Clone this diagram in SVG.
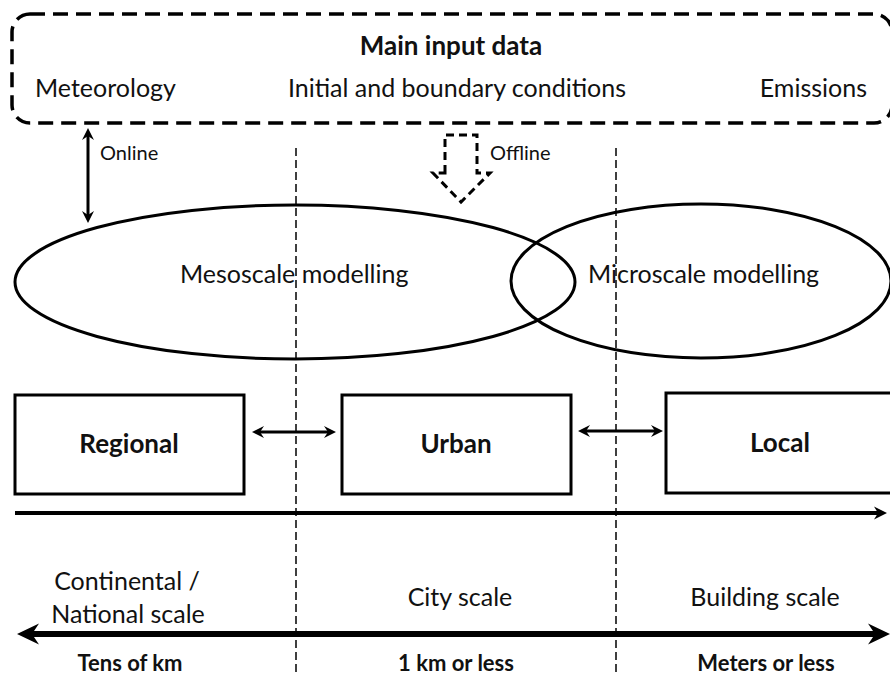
<svg xmlns="http://www.w3.org/2000/svg" width="890" height="676" viewBox="0 0 890 676">
  <style>
    text { font-family: Lato, "Open Sans", "Liberation Sans", sans-serif; fill: #111; }
    .t { font-size: 25px; }
    .s { font-size: 20px; }
    .b { font-size: 26px; font-weight: bold; }
    .bs { font-size: 22px; font-weight: bold; }
    .mid { text-anchor: middle; }
    .box { fill: #fff; stroke: #000; stroke-width: 3; }
    .ell { fill: none; stroke: #000; stroke-width: 3; }
    .guide { stroke: #000; stroke-width: 1.5; stroke-dasharray: 8 4; fill: none; }
    .ln { stroke: #000; fill: none; }
  </style>
  <defs>
    <marker id="ah" viewBox="-12 -7 13 14" refX="-7" refY="0" markerWidth="13" markerHeight="14" markerUnits="userSpaceOnUse" orient="auto-start-reverse">
      <path d="M0,0 L-12,-6 L-8,0 L-12,6 Z" fill="#000"/>
    </marker>
    <marker id="ahm" viewBox="-13 -7 14 14" refX="-8" refY="0" markerWidth="14" markerHeight="14" markerUnits="userSpaceOnUse" orient="auto-start-reverse">
      <path d="M0,0 L-13,-6.5 L-9,0 L-13,6.5 Z" fill="#000"/>
    </marker>
    <marker id="ahb" viewBox="-23 -11 24 22" refX="-13" refY="0" markerWidth="24" markerHeight="22" markerUnits="userSpaceOnUse" orient="auto-start-reverse">
      <path d="M0,0 L-22,-10.5 L-15,0 L-22,10.5 Z" fill="#000"/>
    </marker>
  </defs>

  <!-- scale boundaries -->
  <g id="guides">
    <line class="guide" x1="296" y1="148" x2="296" y2="676"/>
    <line class="guide" x1="616" y1="148" x2="616" y2="676"/>
  </g>

  <!-- input data frame -->
  <g id="input-data">
    <rect x="12" y="14" width="880" height="109" rx="18" ry="18" fill="none" stroke="#000" stroke-width="3.5" stroke-dasharray="15 8"/>
    <text class="b mid" x="451" y="55">Main input data</text>
    <text class="t" x="35" y="97">Meteorology</text>
    <text class="t mid" x="457" y="97">Initial and boundary conditions</text>
    <text class="t" x="867" y="97" text-anchor="end">Emissions</text>
  </g>

  <!-- modelling domains -->
  <g id="mesoscale">
    <ellipse class="ell" cx="295" cy="282" rx="280" ry="77"/>
    <text class="t" x="180" y="283">Mesoscale modelling</text>
  </g>
  <g id="microscale">
    <ellipse class="ell" cx="701" cy="281" rx="190" ry="77"/>
    <text class="t" x="588" y="283">Microscale modelling</text>
  </g>

  <!-- spatial scales -->
  <g id="regional">
    <rect class="box" x="15" y="395" width="229" height="99"/>
    <text class="b mid" x="129" y="453">Regional</text>
  </g>
  <g id="urban">
    <rect class="box" x="342" y="395" width="229" height="99"/>
    <text class="b mid" x="456" y="453">Urban</text>
  </g>
  <g id="local">
    <rect class="box" x="666" y="393" width="240" height="100"/>
    <text class="b mid" x="780" y="452">Local</text>
  </g>

  <g id="scale-labels">
    <text class="t mid" x="127" y="590">Continental /</text>
    <text class="t mid" x="128" y="623">National scale</text>
    <text class="t mid" x="460" y="606">City scale</text>
    <text class="t mid" x="765" y="606">Building scale</text>
    <text class="bs mid" x="130" y="671">Tens of km</text>
    <text class="bs mid" x="456" y="671">1 km or less</text>
    <text class="bs mid" x="766" y="671">Meters or less</text>
  </g>

  <!-- connectors -->
  <g id="connectors">
    <line class="ln" x1="88" y1="135" x2="88" y2="216" stroke-width="3" marker-start="url(#ah)" marker-end="url(#ah)"/>
    <text class="s" x="100" y="160">Online</text>
    <path d="M445,173 L445,135 L477,135 L477,173 L490,173 L461,202 L433,173 Z" fill="#fff" stroke="#000" stroke-width="3" stroke-dasharray="8 5"/>
    <text class="s" x="490" y="160">Offline</text>
    <line class="ln" x1="259" y1="432" x2="329" y2="432" stroke-width="3" marker-start="url(#ah)" marker-end="url(#ah)"/>
    <line class="ln" x1="585" y1="431" x2="656" y2="431" stroke-width="3" marker-start="url(#ah)" marker-end="url(#ah)"/>
    <line class="ln" x1="15" y1="513" x2="879" y2="513" stroke-width="4" marker-end="url(#ahm)"/>
    <line class="ln" x1="30" y1="634" x2="877" y2="634" stroke-width="6" marker-start="url(#ahb)" marker-end="url(#ahb)"/>
  </g>
</svg>
